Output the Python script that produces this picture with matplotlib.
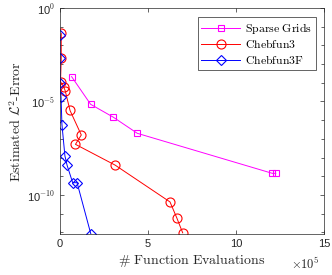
import numpy as np
import matplotlib
matplotlib.use("Agg")
import matplotlib.pyplot as plt
from matplotlib.ticker import FuncFormatter, LogLocator, NullFormatter

# data (x in units of 1e5 evaluations, y as log10 error)
sg_x = [0.66, 1.74, 3.03, 4.39, 12.06, 12.26]
sg_y = [-3.67, -5.15, -5.84, -6.70, -8.84, -8.84]

c3_x = [0.07, 0.07, 0.03, 0.21, 0.30, 0.57, 1.21, 0.88, 3.13, 6.25, 6.63, 6.97]
c3_y = [-1.35, -2.69, -3.94, -4.21, -4.44, -5.48, -6.79, -7.29, -8.40, -10.37, -11.21, -12.02]

c3f_x = [0.0, 0.0, 0.0, 0.06, 0.11, 0.28, 0.40, 0.72, 0.97, 1.76]
c3f_y = [-1.44, -2.69, -4.01, -4.78, -6.23, -7.91, -8.40, -9.34, -9.34, -12.11]

plt.rcParams['mathtext.fontset'] = 'cm'
plt.rcParams['font.family'] = 'Liberation Sans'
axcol = '#262626'

fig = plt.figure(figsize=(3.32, 2.75), dpi=100)
ax = fig.add_axes([0.1807, 0.1473, 0.7953, 0.8237])

def xs(v):
    return np.array(v) * 1e5

def ys(v):
    return 10.0 ** np.array(v)

ax.plot(xs(sg_x), ys(sg_y), '-s', color='#ff00ff', lw=0.7, ms=5, mfc='none', mew=0.8,
        label=r'$\mathrm{Sparse\ Grids}$')
ax.plot(xs(c3_x), ys(c3_y), '-o', color='#ff0000', lw=0.7, ms=6.5, mfc='none', mew=0.8,
        label=r'$\mathrm{Chebfun3}$')
ax.plot(xs(c3f_x), ys(c3f_y), '-D', color='#0000ff', lw=0.7, ms=5, mfc='none', mew=0.8,
        label=r'$\mathrm{Chebfun3F}$')

ax.set_yscale('log')
ax.set_xlim(0, 15e5)
ax.set_ylim(10 ** -12.11, 1)
ax.set_xticks([0, 5e5, 10e5, 15e5])
ax.xaxis.set_major_formatter(FuncFormatter(lambda v, p: '%d' % round(v / 1e5)))
ax.set_yticks([1e-10, 1e-5, 1e0])
ax.set_yticklabels(['10$^{\\mathsf{-10}}$', '10$^{\\mathsf{-5}}$', '10$^{\\mathsf{0}}$'])
ax.yaxis.set_minor_locator(LogLocator(base=10, subs=(1.0,), numticks=30))
ax.yaxis.set_minor_formatter(NullFormatter())

ax.tick_params(which='both', direction='in', top=True, right=True, colors=axcol, labelsize=8, width=0.5)
ax.tick_params(which='major', length=3)
ax.tick_params(which='minor', length=2)
for s in ax.spines.values():
    s.set_color(axcol)
    s.set_linewidth(0.5)

fig.text(0.878, 0.012, r'$\times\mathsf{10}^{\mathsf{5}}$', fontsize=9, color=axcol, ha='left', va='bottom')

ax.set_xlabel(r'$\#\ \mathrm{Function\ Evaluations}$', fontsize=10, color=axcol, labelpad=2)
ax.set_ylabel(r'$\mathrm{Estimated}\ \mathcal{L}^2\mathrm{\text{-}Error}$', fontsize=10, color=axcol, labelpad=2)

leg = ax.legend(loc='upper right', fontsize=8.5,
                handlelength=3.3, borderpad=0.3, labelspacing=0.2, handletextpad=0.4,
                fancybox=False, edgecolor=axcol, framealpha=1, bbox_to_anchor=(0.968, 0.958),
                borderaxespad=0)
leg.get_frame().set_linewidth(0.5)

fig.savefig('out.png', dpi=100)
